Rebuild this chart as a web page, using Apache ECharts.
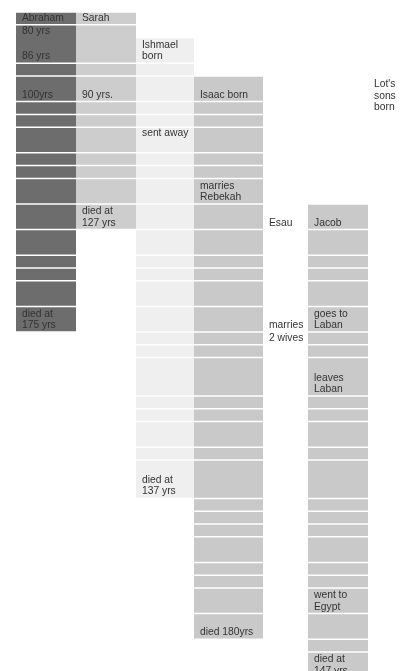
<!DOCTYPE html>
<html><head><meta charset="utf-8">
<script src="https://cdn.jsdelivr.net/npm/echarts@6/dist/echarts.min.js"></script>
<style>html,body{margin:0;padding:0;background:#fff}#c{width:401px;height:671px}</style>
</head><body><div id="c"></div>
<script>
// ---- data (row units of the timeline grid) ----
const people = ["Abraham", "Sarah", "Ishmael", "Isaac", "Esau", "Jacob", "Lot"];
const firstRow = [0, 0, 2, 5, 0, 15, 0];
const abrahamCells = [1, 3, 1, 2, 1, 1, 2, 1, 1, 2, 2, 2, 1, 1, 2, 2];
const sarahCells   = [1, 3, 1, 2, 1, 1, 2, 1, 1, 2, 2];
const ishmaelCells = [2, 1, 2, 1, 1, 2, 1, 1, 2, 2, 2, 1, 1, 2, 2, 1, 1, 3, 1, 1, 2, 1, 3];
const isaacCells   = [2, 1, 1, 2, 1, 1, 2, 2, 2, 1, 1, 2, 2, 1, 1, 3, 1, 1, 2, 1, 3, 1, 1, 1, 2, 1, 1, 2, 2];
const esauCells    = [];
const jacobCells   = [2, 2, 1, 1, 2, 2, 1, 1, 3, 1, 1, 2, 1, 3, 1, 1, 1, 2, 1, 1, 2, 2, 1, 2];
const lotCells     = [];
// notes: [person, row where the note's cell ends, text]
const notes = [
  ["Abraham", 1, "Abraham"], ["Abraham", 2, "80 yrs"], ["Abraham", 4, "86 yrs"],
  ["Abraham", 7, "100yrs"], ["Abraham", 25, "died at\n175 yrs"],
  ["Sarah", 1, "Sarah"], ["Sarah", 7, "90 yrs."], ["Sarah", 17, "died at\n127 yrs"],
  ["Ishmael", 4, "Ishmael\nborn"], ["Ishmael", 10, "sent away"], ["Ishmael", 38, "died at\n137 yrs"],
  ["Isaac", 7, "Isaac born"], ["Isaac", 15, "marries\nRebekah"], ["Isaac", 49, "died 180yrs"],
  ["Esau", 17, "Esau"], ["Esau", 25, "marries"], ["Esau", 26, "2 wives"],
  ["Jacob", 17, "Jacob"], ["Jacob", 25, "goes to\nLaban"], ["Jacob", 30, "leaves\nLaban"],
  ["Jacob", 47, "went to\nEgypt"], ["Jacob", 52, "died at\n147 yrs"],
  ["Lot", 8, "Lot's\nsons\nborn"]
];

// ---- layout / style ----
const colSpan = [[16, 76], [76, 136], [136, 194], [194, 263], [263, 308], [308, 368], [368, 401]];
const colColor = ["#6d6d6d", "#cdcdcd", "#efefef", "#c9c9c9", "#ffffff", "#c9c9c9", "#ffffff"];
const allCells = [abrahamCells, sarahCells, ishmaelCells, isaacCells, esauCells, jacobCells, lotCells];

const cellData = [];
allCells.forEach((list, ci) => {
  let y = firstRow[ci];
  list.forEach(h => { cellData.push([ci, y, y + h]); y += h; });
});
const noteData = notes.map(n => [people.indexOf(n[0]), n[1]]);

const chart = echarts.init(document.getElementById('c'), null, {renderer: 'canvas'});
chart.setOption({
  animation: false,
  backgroundColor: '#ffffff',
  grid: {left: 0, right: 0, top: 12, bottom: 0},
  xAxis: {type: 'value', min: 0, max: 401, show: false},
  yAxis: {type: 'value', min: 0, max: 659 / 12.8, inverse: true, show: false},
  series: [
    {
      type: 'custom',
      data: cellData,
      encode: {x: 0, y: [1, 2]},
      renderItem: function (params, api) {
        const c = api.value(0), y0 = api.value(1), y1 = api.value(2);
        const p0 = api.coord([colSpan[c][0], y0]);
        const p1 = api.coord([colSpan[c][1], y1]);
        return {
          type: 'rect',
          shape: {x: p0[0], y: p0[1] + 0.75, width: p1[0] - p0[0], height: p1[1] - p0[1] - 1.5},
          style: {fill: colColor[c]}
        };
      }
    },
    {
      type: 'custom',
      data: noteData,
      encode: {x: 0, y: 1},
      z: 5,
      renderItem: function (params, api) {
        const c = api.value(0), yb = api.value(1);
        const p = api.coord([colSpan[c][0], yb]);
        return {
          type: 'text',
          x: p[0] + 6,
          y: p[1] - 1,
          style: {
            text: notes[params.dataIndex][2],
            fill: '#333333',
            font: 'normal 10.3px "Liberation Sans", Arial, sans-serif',
            lineHeight: 11.5,
            align: 'left',
            verticalAlign: 'bottom'
          }
        };
      }
    }
  ]
});
</script></body></html>
